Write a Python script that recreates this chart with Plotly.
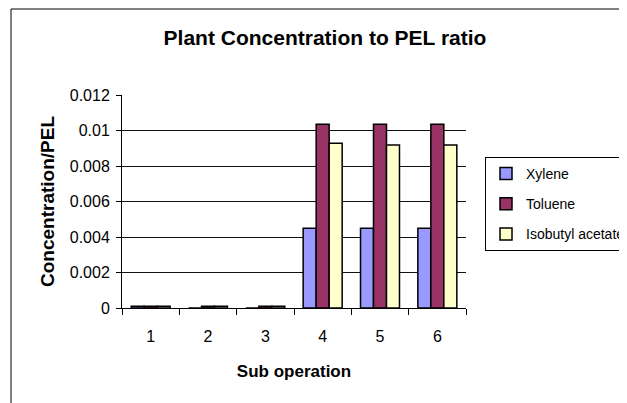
import plotly.graph_objects as go

categories = ["1", "2", "3", "4", "5", "6"]
xylene = [0.0001, 0, 0, 0.00449, 0.00449, 0.00449]
toluene = [0.0001, 0.0001, 0.0001, 0.01035, 0.01035, 0.01035]
isobutyl = [0.0001, 0.0001, 0.0001, 0.00928, 0.00918, 0.00918]
y_ticks = [0, 0.002, 0.004, 0.006, 0.008, 0.01, 0.012]
y_tick_labels = ["0", "0.002", "0.004", "0.006", "0.008", "0.01", "0.012"]

series = [("Xylene", xylene, "#9999FF"),
          ("Toluene", toluene, "#993366"),
          ("Isobutyl acetate", isobutyl, "#FFFFCC")]

fig = go.Figure()
for name, vals, col in series:
    fig.add_trace(go.Bar(x=categories, y=vals, name=name, legendgroup=name,
                         marker=dict(color=col, line=dict(color="#000000", width=1.5))))

font = "Liberation Sans, Arial, sans-serif"
OFF = 8  # page body margin
W, H = 627 - OFF, 403 - OFF
l, r, t, b = 122 - OFF, 627 - 466, 95 - OFF, 403 - 308
pw, ph = W - l - r, H - t - b


def px(x):  # page pixel x -> paper
    return (x - OFF - l) / pw


def py(y):  # page pixel y -> paper
    return (H - b - (y - OFF)) / ph


fig.update_layout(
    width=W, height=H,
    margin=dict(l=l, r=r, t=t, b=b, autoexpand=False),
    paper_bgcolor="white", plot_bgcolor="white",
    font=dict(family=font, size=16, color="black"),
    barmode="group", bargap=0.32, bargroupgap=0,
    title=dict(text="<b>Plant Concentration to PEL ratio</b>", x=px(325), xref="paper",
               xanchor="center", y=1 - (38 - OFF) / H, yanchor="middle",
               font=dict(size=21, family=font)),
    xaxis=dict(type="category", showline=True, linecolor="black", linewidth=1,
               ticks="outside", ticklen=6, tickcolor="black", tickson="boundaries",
               ticklabelstandoff=14, showgrid=False,
               title=dict(text="<b>Sub operation</b>", font=dict(size=17), standoff=20)),
    yaxis=dict(range=[0, 0.012], tickvals=y_ticks, ticktext=y_tick_labels,
               showline=True, linecolor="black", linewidth=1,
               ticks="outside", ticklen=5, tickcolor="black", ticklabelstandoff=3,
               showgrid=True, gridcolor="#111111", gridwidth=1, zeroline=False,
               title=dict(text="<b>Concentration/PEL</b>", font=dict(size=19), standoff=10)),
    legend=dict(x=px(485), y=py(157), xanchor="left", yanchor="top",
                bordercolor="black", borderwidth=1, bgcolor="white",
                font=dict(size=14), tracegroupgap=9, traceorder="grouped"),
    shapes=[dict(type="rect", xref="paper", yref="paper",
                 x0=px(11), x1=px(700), y0=py(460), y1=py(9),
                 line=dict(color="black", width=1), fillcolor="rgba(0,0,0,0)", layer="below")],
)

fig.write_html("out.html")
